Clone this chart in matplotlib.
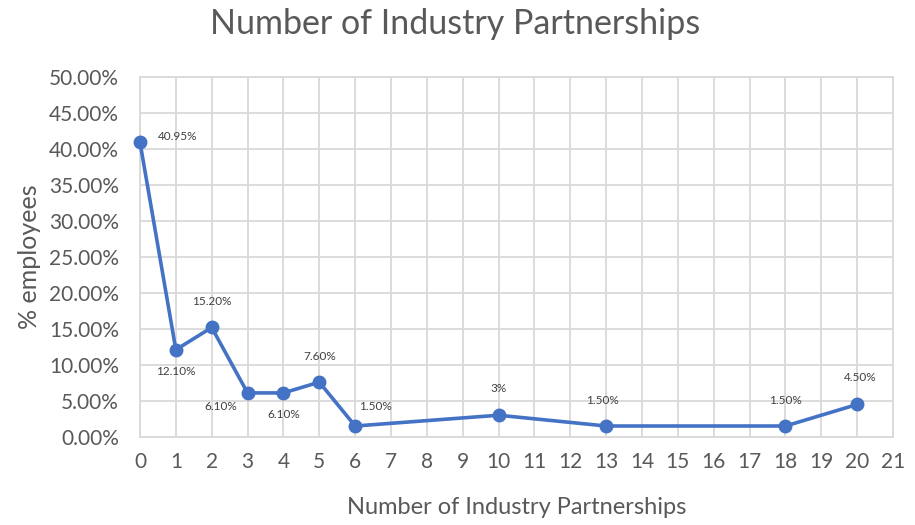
import matplotlib.pyplot as plt
from matplotlib.ticker import MultipleLocator, FuncFormatter

partnerships = [0, 1, 2, 3, 4, 5, 6, 10, 13, 18, 20]
employees = [40.95, 12.10, 15.20, 6.10, 6.10, 7.60, 1.50, 3.0, 1.50, 1.50, 4.50]
labels = ["40.95%", "12.10%", "15.20%", "6.10%", "6.10%", "7.60%",
          "1.50%", "3%", "1.50%", "1.50%", "4.50%"]
# label offsets in pixels (dx, dy) and alignment
offsets = [(18, 6, "left"), (0, -22, "center"), (0, 26, "center"), (-27, -14, "center"),
           (0, -22, "center"), (0, 26, "center"), (20, 20, "center"), (0, 27, "center"),
           (-4, 26, "center"), (0, 26, "center"), (3, 27, "center")]

plt.rcParams["font.family"] = ["Lato", "DejaVu Sans"]
grey = "#595959"
fig = plt.figure(figsize=(9.15, 5.25), dpi=100)
ax = fig.add_axes([0.153, 0.168, 0.823, 0.685])

ax.plot(partnerships, employees, color="#4472C4", linewidth=2.6, marker="o",
        markersize=9, zorder=3, clip_on=False)
for x, y, t, (dx, dy, ha) in zip(partnerships, employees, labels, offsets):
    ax.annotate(t, (x, y), xytext=(dx * 0.72, dy * 0.72), textcoords="offset points",
                ha=ha, va="center", fontsize=8.5, color="#404040")

ax.set_xlim(0, 21)
ax.set_ylim(0, 50)
ax.xaxis.set_major_locator(MultipleLocator(1))
ax.yaxis.set_major_locator(MultipleLocator(5))
ax.yaxis.set_major_formatter(FuncFormatter(lambda v, p: f"{v:.2f}%"))
ax.grid(True, color="#d9d9d9", linewidth=1.3, zorder=0)
for s in ax.spines.values():
    s.set_color("#d9d9d9")
    s.set_linewidth(1.3)
ax.tick_params(length=0, labelsize=15, labelcolor=grey)
ax.tick_params(axis="y", pad=15)
ax.tick_params(axis="x", pad=11)

fig.text(0.497, 0.955, "Number of Industry Partnerships", fontsize=24.5, color=grey,
         ha="center", va="center")
ax.set_xlabel("Number of Industry Partnerships", fontsize=17, color=grey, va="center")
ax.xaxis.set_label_coords(0.5, -0.197)
ax.set_ylabel("% employees", fontsize=18, color=grey)
ax.yaxis.set_label_coords(-0.131, 0.5)

fig.savefig("out.png")
